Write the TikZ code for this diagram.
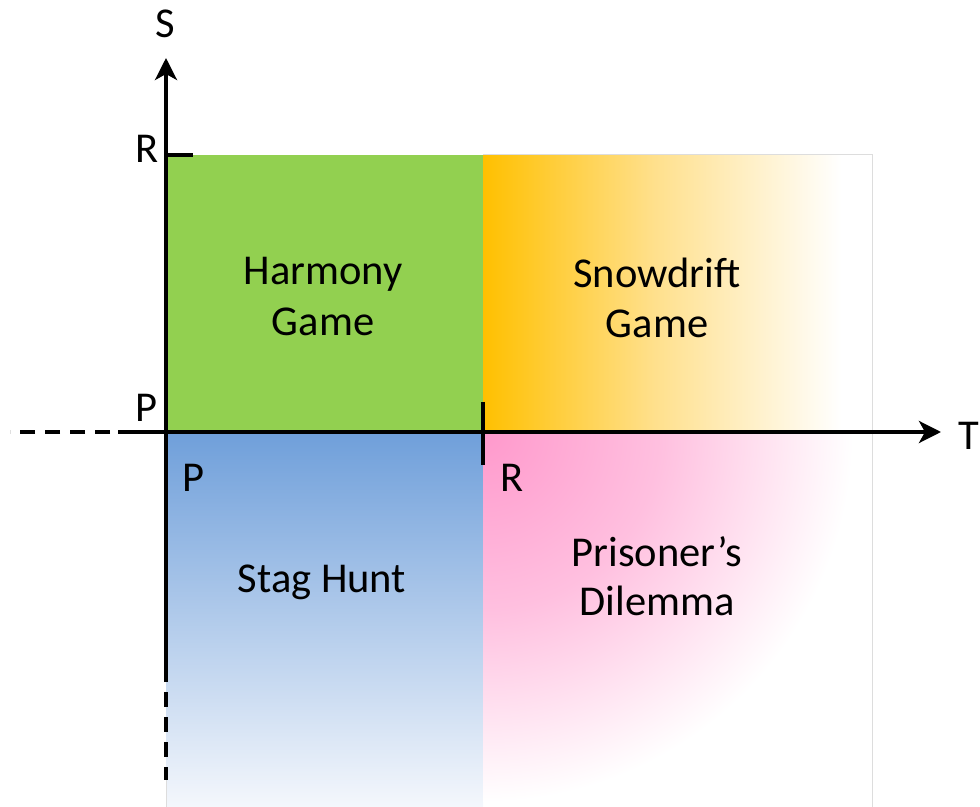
\documentclass[tikz,border=0pt]{standalone}
\usepackage{fontspec}
\setmainfont{Carlito}
\usetikzlibrary{arrows.meta}

\definecolor{hgGreen}{HTML}{92D050}
\definecolor{sdGold}{HTML}{FFC000}
\definecolor{sdMid}{HTML}{FFE08C}
\definecolor{shTop}{HTML}{6F9FDA}
\definecolor{shBottom}{HTML}{F4F7FC}
\definecolor{pdPink}{HTML}{FF99CC}
\definecolor{frameGray}{HTML}{DDDDDD}

% gold-to-white ramp for the Snowdrift quadrant
\pgfdeclarehorizontalshading{sdshade}{100bp}{color(0bp)=(sdGold); color(25bp)=(sdGold); color(47bp)=(sdMid); color(71bp)=(white); color(100bp)=(white)}
% pink glow spreading from the corner of the Prisoner's Dilemma quadrant
\pgfdeclareradialshading{pdshade}{\pgfpoint{0bp}{0bp}}{color(0bp)=(pdPink); color(12bp)=(pdPink!62); color(25bp)=(white); color(50bp)=(white)}

\tikzset{
  axis/.style={line width=1.9pt, black},
  axisdash/.style={line width=1.9pt, black, dash pattern=on 7.5pt off 5pt},
  tick/.style={line width=1.8pt, black},
  lbl/.style={inner sep=0pt, anchor=base, font=\fontsize{21.25pt}{26pt}\selectfont},
  tip/.style={-{Stealth[length=11pt, width=11pt, inset=3pt]}}
}

\begin{document}
\begin{tikzpicture}[x=0.5pt, y=-0.5pt]
\useasboundingbox (0,0) rectangle (980,807);

% key points
\coordinate (O) at (166,432);
\coordinate (Rs) at (166,155);
\coordinate (Rt) at (483,432);

% quadrants
\fill[hgGreen] (166,155) rectangle (483,432);
\shade[shading=sdshade] (483,155) rectangle (872,432);
\shade[top color=shTop, bottom color=shBottom] (166,432) rectangle (483,807);
\begin{scope}
  \clip (483,432) rectangle (872,807);
  \shade[shading=pdshade] (483,432) circle (370);
\end{scope}

% faint outer frame
\draw[frameGray, line width=0.5pt] (483,155) -- (872,155) -- (872,807);
\draw[frameGray, line width=0.5pt] (166,780) -- (166,807);

% axes
\coordinate (Send) at (166,58);
\coordinate (Sdash) at (166,682);
\coordinate (Sbot) at (166,780);
\coordinate (Tend) at (941,432);
\coordinate (Tdash) at (118,432);
\coordinate (Tleft) at (10,432);
\draw[axis, tip] (Sdash) -- (Send);
\draw[axisdash] (166,692) -- (Sbot);
\draw[axis, tip] (Tdash) -- (Tend);
\draw[axisdash] (110,432) -- (Tleft);

% tick marks at R
\coordinate (RsTick) at (193,155);
\draw[tick] (Rs) -- (RsTick);
\coordinate (RtTop) at (483,402);
\coordinate (RtBot) at (483,465);
\draw[tick] (RtTop) -- (RtBot);

% axis labels
\node[lbl] (S) at (165,38) {S};
\node[lbl] (T) at (969,450) {T};
\node[lbl] (Rlab) at (147,163) {R};
\node[lbl] (Plab) at (146,422) {P};
\node[lbl] (Pt) at (193,492) {P};
\node[lbl] (Rtl) at (512,492) {R};

% quadrant names
\node[lbl] (hg1) at (323,285) {Harmony};
\node[lbl] (hg2) at (323,336) {Game};
\node[lbl] (sd1) at (657,288) {Snowdrift};
\node[lbl] (sd2) at (657,338) {Game};
\node[lbl] (sh) at (322,592) {Stag Hunt};
\node[lbl] (pd1) at (657,567) {Prisoner’s};
\node[lbl] (pd2) at (657,615) {Dilemma};
\end{tikzpicture}
\end{document}
